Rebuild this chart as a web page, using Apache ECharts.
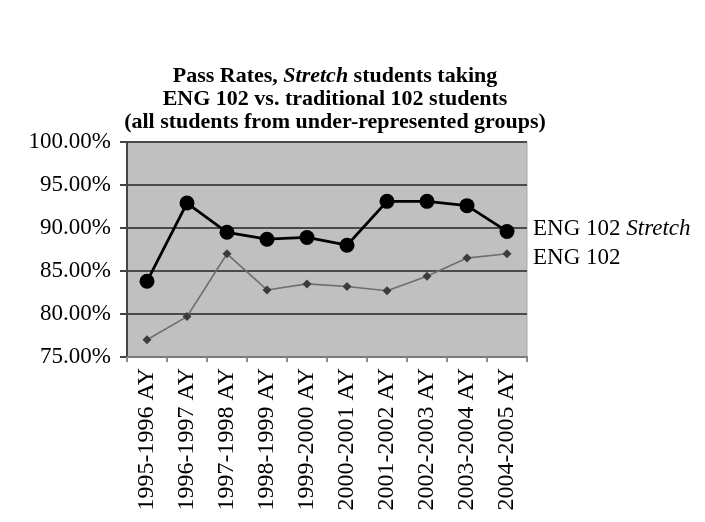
<!DOCTYPE html>
<html>
<head>
<meta charset="utf-8">
<script src="https://cdn.jsdelivr.net/npm/echarts@6/dist/echarts.min.js"></script>
<style>
html,body{margin:0;padding:0;background:#fff;}
#c{width:705px;height:522px;}
</style>
</head>
<body>
<div id="c"></div>
<script>
var categories = ['1995-1996 AY','1996-1997 AY','1997-1998 AY','1998-1999 AY','1999-2000 AY','2000-2001 AY','2001-2002 AY','2002-2003 AY','2003-2004 AY','2004-2005 AY'];
var stretchValues = [83.8, 92.9, 89.5, 88.7, 88.9, 88.0, 93.1, 93.1, 92.6, 89.6];
var eng102Values = [77.0, 79.7, 87.0, 82.8, 83.5, 83.2, 82.7, 84.4, 86.5, 87.0];
var yTicks = [75, 80, 85, 90, 95, 100];
var titleLines = ['Pass Rates, {i|Stretch} students taking', 'ENG 102 vs. traditional 102 students', '(all students from under-represented groups)'];

var serif = '"Liberation Serif", "DejaVu Serif", serif';
var chart = echarts.init(document.getElementById('c'));
chart.setOption({
  animation: false,
  graphic: [{
    type: 'text',
    x: 335,
    y: 65,
    style: {
      text: titleLines.join('\n'),
      textAlign: 'center',
      textVerticalAlign: 'top',
      fill: '#000',
      fontFamily: serif, fontWeight: 'bold', fontSize: 22, lineHeight: 23,
      rich: { i: { fontFamily: serif, fontWeight: 'bold', fontStyle: 'italic', fontSize: 22, lineHeight: 23 } }
    }
  }],
  grid: {
    left: 127, top: 142, width: 400, height: 215,
    show: true, backgroundColor: '#c0c0c0', borderColor: '#a8a8a8', borderWidth: 1
  },
  xAxis: {
    type: 'category',
    data: categories,
    boundaryGap: true,
    axisLine: { show: true, lineStyle: { color: '#7a7a7a', width: 2 } },
    axisTick: { show: true, length: 5, alignWithLabel: false, lineStyle: { color: '#8a8a8a', width: 2 } },
    axisLabel: { rotate: 90, interval: 0, margin: 11, fontFamily: serif, fontSize: 24, color: '#000' }
  },
  yAxis: {
    type: 'value',
    min: yTicks[0], max: yTicks[yTicks.length - 1], interval: 5,
    axisLine: { show: true, lineStyle: { color: '#444', width: 2 } },
    axisTick: { show: true, length: 7, lineStyle: { color: '#444', width: 2 } },
    splitLine: { show: true, lineStyle: { color: '#4a4a4a', width: 2 } },
    axisLabel: { margin: 16, fontFamily: serif, fontSize: 23, color: '#000',
      formatter: function (v) { return v.toFixed(2) + '%'; } }
  },
  series: [
    {
      name: 'ENG 102',
      type: 'line',
      data: eng102Values,
      symbol: 'diamond', symbolSize: 9,
      itemStyle: { color: '#3c3c3c' },
      lineStyle: { color: '#6e6e6e', width: 1.6 },
      z: 2,
      endLabel: { show: true, distance: 26, offset: [0, 4], fontFamily: serif, fontSize: 23, color: '#000',
        formatter: function () { return 'ENG 102'; } }
    },
    {
      name: 'ENG 102 Stretch',
      type: 'line',
      data: stretchValues,
      symbol: 'circle', symbolSize: 15,
      itemStyle: { color: '#000' },
      lineStyle: { color: '#000', width: 2.8 },
      z: 3,
      endLabel: { show: true, distance: 26, offset: [0, -2], fontFamily: serif, fontSize: 23, color: '#000',
        formatter: function () { return '{a|ENG 102 }{b|Stretch}'; },
        rich: { a: { fontFamily: serif, fontSize: 23, color: '#000' }, b: { fontFamily: serif, fontSize: 23, fontStyle: 'italic', color: '#000' } } }
    }
  ]
});
</script>
</body>
</html>
